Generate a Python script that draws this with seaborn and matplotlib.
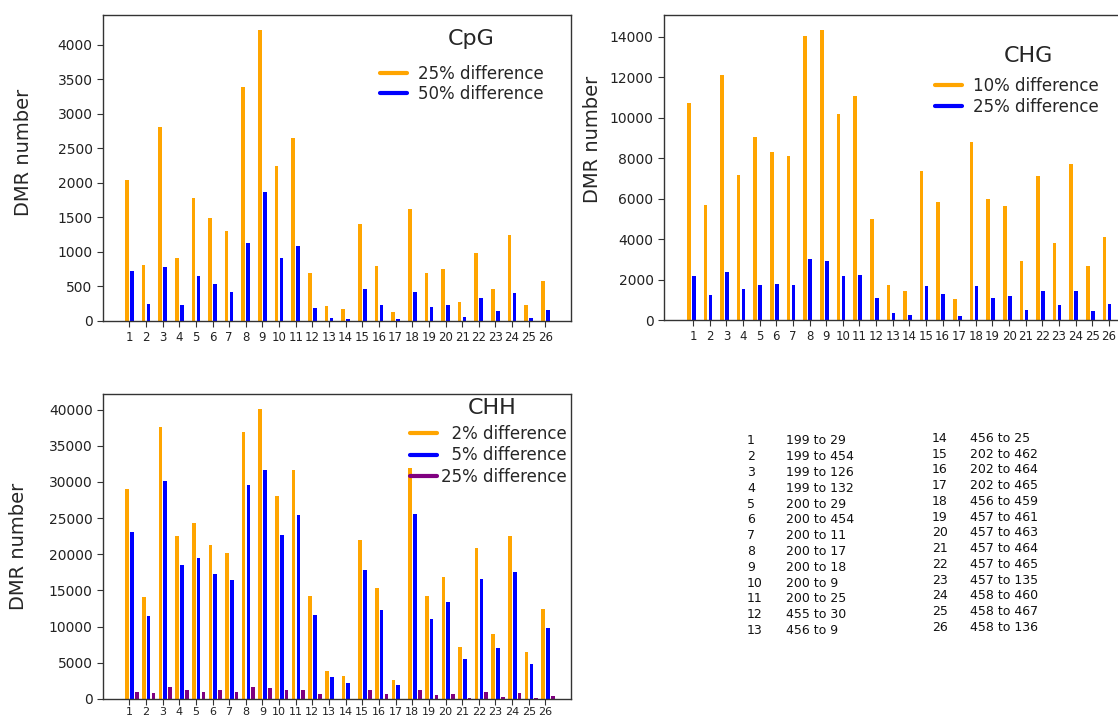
import numpy as np
import pandas as pd
import matplotlib
matplotlib.use("Agg")
import matplotlib.pyplot as plt
import seaborn as sns
from matplotlib.lines import Line2D

# ---------------- data ----------------
pairs = [str(i) for i in range(1, 27)]
pair_names = ["199 to 29", "199 to 454", "199 to 126", "199 to 132", "200 to 29",
              "200 to 454", "200 to 11", "200 to 17", "200 to 18", "200 to 9",
              "200 to 25", "455 to 30", "456 to 9", "456 to 25", "202 to 462",
              "202 to 464", "202 to 465", "456 to 459", "457 to 461", "457 to 463",
              "457 to 464", "457 to 465", "457 to 135", "458 to 460", "458 to 467",
              "458 to 136"]

cpg_labels = ["25% difference", "50% difference"]
cpg_25 = [2046, 814, 2812, 906, 1775, 1494, 1309, 3389, 4218, 2245, 2647, 698, 218,
          175, 1411, 790, 126, 1624, 698, 746, 276, 989, 461, 1246, 237, 586]
cpg_50 = [727, 247, 785, 233, 655, 533, 417, 1125, 1867, 906, 1081, 184, 44,
          29, 465, 228, 29, 422, 209, 233, 63, 335, 150, 402, 39, 165]

chg_labels = ["10% difference", "25% difference"]
chg_10 = [10745, 5686, 12115, 7174, 9058, 8331, 8116, 14068, 14364, 10199, 11091,
          4992, 1719, 1422, 7355, 5835, 1058, 8810, 5983, 5636, 2942, 7108, 3785,
          7703, 2678, 4083]
chg_25 = [2165, 1240, 2380, 1537, 1736, 1802, 1752, 3041, 2926, 2165, 2231, 1074,
          347, 248, 1703, 1289, 215, 1686, 1091, 1173, 512, 1438, 760, 1422, 430, 810]

chh_labels = ["  2% difference", "  5% difference", "25% difference"]
chh_2 = [29028, 14028, 37593, 22546, 24306, 21250, 20231, 36852, 40139, 28056,
         31667, 14259, 3935, 3148, 21944, 15278, 2639, 31944, 14167, 16898, 7130,
         20926, 9028, 22500, 6481, 12454]
chh_5 = [23009, 11435, 30139, 18472, 19444, 17269, 16389, 29583, 31620, 22639,
         25417, 11620, 3009, 2176, 17870, 12361, 1944, 25556, 11019, 13472, 5509,
         16620, 7083, 17593, 4861, 9861]
chh_25 = [1019, 833, 1667, 1204, 926, 1250, 972, 1667, 1574, 1250, 1296, 648, 50,
          30, 1204, 741, 20, 1296, 509, 648, 139, 926, 324, 833, 139, 463]

orange, blue, purple = "#FFA500", "#0000FF", "#800080"

# ---------------- style ----------------
sns.set_theme(style="ticks")
plt.rcParams["font.family"] = ["DejaVu Sans"]
plt.rcParams["axes.edgecolor"] = "#333333"
plt.rcParams["axes.linewidth"] = 1.0


def long_df(labels, series):
    rows = []
    for lab, vals in zip(labels, series):
        for p, v in zip(pairs, vals):
            rows.append({"pair": p, "threshold": lab, "count": v})
    return pd.DataFrame(rows)


fig = plt.figure(figsize=(11.18, 7.17), dpi=100)
W, H = 1118.0, 717.0


def add_ax(left, top, bottom, width=468):
    return fig.add_axes([left / W, (H - bottom) / H, width / W, (bottom - top) / H])


def panel(ax, labels, series, colors, width, gap, xlim, shift, yticks,
          title, title_xy, leg_xy, ylab_xy, labelspacing, textpad,
          xfs=8.5, xpad=3.5):
    df = long_df(labels, series)
    sns.barplot(data=df, x="pair", y="count", hue="threshold", order=pairs,
                hue_order=labels, palette=dict(zip(labels, colors)),
                saturation=1, width=width, gap=gap, linewidth=0,
                legend=False, ax=ax)
    ax.set_xlim(*xlim)
    ymax = max(max(s) for s in series)
    ax.set_ylim(0, ymax * 1.05)
    ax.set_yticks(yticks)
    ax.set_yticklabels([str(t) for t in yticks], fontsize=10, color="#222222")
    ax.set_xticks(np.arange(len(pairs)) + shift)
    ax.set_xticklabels(pairs, fontsize=xfs, color="#222222")
    ax.set_xlabel("")
    ax.set_ylabel("DMR number", fontsize=14)
    ax.yaxis.set_label_coords(*ylab_xy)
    ax.tick_params(length=4, width=0.8, color="#333333")
    ax.tick_params(axis="x", pad=xpad)
    ax.text(title_xy[0], title_xy[1], title, transform=ax.transAxes,
            fontsize=16, ha="center", va="baseline")
    handles = [Line2D([0], [0], color=c, lw=3) for c in colors]
    ax.legend(handles, labels, loc="upper left", bbox_to_anchor=leg_xy,
              frameon=False, fontsize=12, borderpad=0, borderaxespad=0,
              handlelength=1.6, handletextpad=textpad, labelspacing=labelspacing)


ax1 = add_ax(103, 15, 321)
panel(ax1, cpg_labels, [cpg_25, cpg_50], [orange, blue], 0.6, 0.27,
      (-1.58, 26.54), 0.0, list(range(0, 4001, 500)), "CpG",
      (0.786, 0.902), (0.592, 0.836), (-0.150, 0.552), 0.08, 0.7)

ax2 = add_ax(664, 15, 320)
panel(ax2, chg_labels, [chg_10, chg_25], [orange, blue], 0.6, 0.27,
      (-1.64, 26.5), 0.11, list(range(0, 14001, 2000)), "CHG",
      (0.778, 0.846), (0.579, 0.797), (-0.132, 0.593), 0.2, 0.7)

ax3 = add_ax(103, 394, 699)
panel(ax3, chh_labels, [chh_2, chh_5, chh_25], [orange, blue, purple], 0.87, 0.24,
      (-1.74, 26.38), -0.16, list(range(0, 40001, 5000)), "CHH",
      (0.831, 0.934), (0.656, 0.898), (-0.160, 0.5), 0.2, 0.25,
      xfs=8, xpad=2)

# pair key table
for i, (num, name) in enumerate(zip(pairs, pair_names)):
    if i < 13:
        y = 440.7 + i * 15.83
        xn, xt = 747, 786
    else:
        y = 438.3 + (i - 13) * 15.75
        xn, xt = 932, 970
    fig.text(xn / W, 1 - y / H, num, fontsize=9, va="center", ha="left", color="#111111")
    fig.text(xt / W, 1 - y / H, name, fontsize=9, va="center", ha="left", color="#111111")

fig.savefig("out.png", dpi=100)
